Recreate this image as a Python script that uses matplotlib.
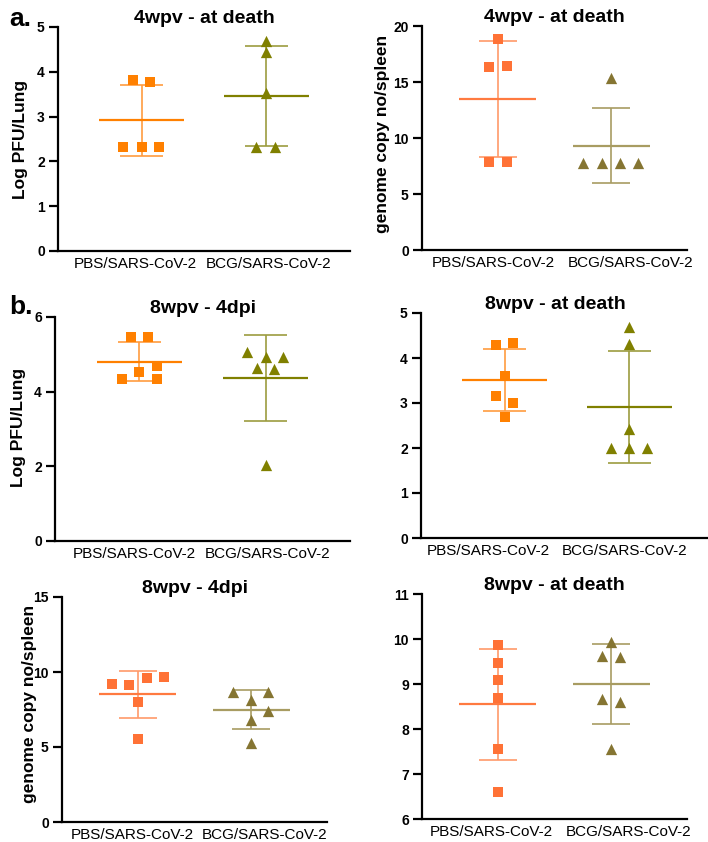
import numpy as np
import matplotlib
matplotlib.use("Agg")
from matplotlib import pyplot as plt

plt.rcParams['font.family'] = ['Liberation Sans', 'DejaVu Sans']

# ---- data ----
groups = ['PBS/SARS-CoV-2', 'BCG/SARS-CoV-2']

lung_4wpv_death_pbs = [3.81, 3.77, 2.33, 2.33, 2.33]
lung_4wpv_death_bcg = [4.69, 4.44, 3.53, 2.33, 2.33]
spleen_4wpv_death_pbs = [18.81, 16.31, 16.43, 7.89, 7.89]
spleen_4wpv_death_bcg = [15.33, 7.80, 7.80, 7.80, 7.80]
lung_8wpv_4dpi_pbs = [5.46, 5.46, 4.68, 4.53, 4.35, 4.35]
lung_8wpv_4dpi_bcg = [5.06, 4.93, 4.93, 4.64, 4.60, 2.03]
lung_8wpv_death_pbs = [4.30, 4.33, 3.61, 3.16, 3.00, 2.70]
lung_8wpv_death_bcg = [4.70, 4.31, 2.43, 2.01, 2.01, 2.01]
spleen_8wpv_4dpi_pbs = [9.20, 9.16, 9.60, 9.64, 8.00, 5.56]
spleen_8wpv_4dpi_bcg = [8.64, 8.64, 8.11, 7.38, 6.82, 5.27]
spleen_8wpv_death_pbs = [9.86, 9.47, 9.10, 8.70, 7.56, 6.60]
spleen_8wpv_death_bcg = [9.93, 9.63, 9.59, 8.67, 8.59, 7.56]

# horizontal scatter of the dots (same order as the values)
jit_1p = [-0.07, 0.07, -0.15, 0.0, 0.14]
jit_1b = [0.0, 0.0, 0.0, -0.08, 0.07]
jit_2p = [0.0, -0.08, 0.08, -0.08, 0.08]
jit_2b = [0.0, -0.25, -0.08, 0.08, 0.24]
jit_3p = [-0.07, 0.07, 0.14, 0.0, -0.14, 0.14]
jit_3b = [-0.15, 0.0, 0.14, -0.07, 0.07, 0.0]
jit_4p = [-0.07, 0.07, 0.0, -0.07, 0.07, 0.0]
jit_4b = [0.0, 0.0, 0.0, -0.15, 0.0, 0.14]
jit_5p = [-0.23, -0.08, 0.08, 0.23, 0.0, 0.0]
jit_5b = [-0.16, 0.15, 0.0, 0.15, 0.0, 0.0]
jit_6p = [0.0, 0.0, 0.0, 0.0, 0.0, 0.0]
jit_6b = [0.0, -0.08, 0.08, -0.08, 0.08, 0.0]

# colours: (marker, mean line, error bar)
lung_pbs = ('#FF8000', '#FF8000', '#FF9C40')
lung_bcg = ('#808000', '#808000', '#9C9C40')
spl_pbs = ('#FF7236', '#FF7A40', '#FF9A6A')
spl_bcg = ('#857532', '#A89C62', '#A89C62')

W, H = 708, 842
fig = plt.figure(figsize=(W / 100, H / 100), dpi=100)


def px_axes(left, right, top, bottom):
    return fig.add_axes([left / W, 1 - bottom / H, (right - left) / W, (bottom - top) / H])


def dot_plot(ax, vals, jit, x0, cols, marker, size):
    v = np.asarray(vals)
    m, sd = v.mean(), v.std(ddof=1)
    ax.vlines(x0, m - sd, m + sd, color=cols[2], lw=1.2, zorder=2)
    ax.hlines([m - sd, m + sd], x0 - 0.17, x0 + 0.17, color=cols[2], lw=1.2, zorder=2)
    ax.hlines(m, x0 - 0.34, x0 + 0.34, color=cols[1], lw=1.6, zorder=3)
    ax.scatter(x0 + np.asarray(jit), v, marker=marker, s=size, color=cols[0],
               linewidths=0, zorder=4)


def style(ax, ylim, yticks, title, tx, labx):
    ax.set_xlim(-0.67, 1.67)
    ax.set_ylim(*ylim)
    ax.set_yticks(yticks)
    # category labels sit a little off the group centres, as in the original
    ax.set_xticks(labx)
    ax.set_xticklabels(groups, fontsize=11)
    for s in ('top', 'right'):
        ax.spines[s].set_visible(False)
    for s in ('left', 'bottom'):
        ax.spines[s].set_linewidth(1.6)
    ax.tick_params(axis='y', length=6.5, width=1.6, pad=3, labelsize=10)
    ax.tick_params(axis='x', length=0, pad=4)
    for lab in ax.get_yticklabels():
        lab.set_fontweight('bold')
    ax.set_title(title, fontsize=14, fontweight='bold', pad=2, x=tx)


panels = [
    ((58, 350, 27, 251), lung_4wpv_death_pbs, jit_1p, lung_4wpv_death_bcg, jit_1b,
     lung_pbs, lung_bcg, (0, 5), range(0, 6), '4wpv - at death', 0.5, (-0.05, 1.02)),
    ((422, 687, 26, 250), spleen_4wpv_death_pbs, jit_2p, spleen_4wpv_death_bcg, jit_2b,
     spl_pbs, spl_bcg, (0, 20), range(0, 21, 5), '4wpv - at death', 0.5, (-0.04, 1.17)),
    ((55, 350, 317, 541), lung_8wpv_4dpi_pbs, jit_3p, lung_8wpv_4dpi_bcg, jit_3b,
     lung_pbs, lung_bcg, (0, 6), range(0, 7, 2), '8wpv - 4dpi', 0.5, (-0.04, 1.02)),
    ((421, 713, 313, 538), lung_8wpv_death_pbs, jit_4p, lung_8wpv_death_bcg, jit_4b,
     lung_pbs, lung_bcg, (0, 5), range(0, 6), '8wpv - at death', 0.46, (-0.13, 0.96)),
    ((62, 327, 597, 822), spleen_8wpv_4dpi_pbs, jit_5p, spleen_8wpv_4dpi_bcg, jit_5b,
     spl_pbs, spl_bcg, (0, 15), range(0, 16, 5), '8wpv - 4dpi', 0.5, (-0.05, 1.12)),
    ((422, 687, 594, 819), spleen_8wpv_death_pbs, jit_6p, spleen_8wpv_death_bcg, jit_6b,
     spl_pbs, spl_bcg, (6, 11), range(6, 12), '8wpv - at death', 0.5, (-0.06, 1.15)),
]

for box, vp, jp, vb, jb, cp, cb, ylim, yt, title, tx, labx in panels:
    ax = px_axes(*box)
    dot_plot(ax, vp, jp, 0, cp, 's', 52)
    dot_plot(ax, vb, jb, 1, cb, '^', 66)
    style(ax, ylim, yt, title, tx, labx)

# y axis labels
ylab_kw = dict(rotation=90, ha='center', va='center', fontsize=12.5, fontweight='bold')
fig.text(21 / W, 1 - 139 / H, 'Log PFU/Lung', **ylab_kw)
fig.text(383 / W, 1 - 134 / H, 'genome copy no/spleen', **ylab_kw)
fig.text(19 / W, 1 - 427 / H, 'Log PFU/Lung', **ylab_kw)
fig.text(30 / W, 1 - 704 / H, 'genome copy no/spleen', **ylab_kw)

# panel letters
fig.text(9 / W, 1 - 26 / H, 'a.', fontsize=19, fontweight='bold', va='baseline')
fig.text(9 / W, 1 - 314 / H, 'b.', fontsize=19, fontweight='bold', va='baseline')

fig.savefig('out.png', dpi=100, facecolor='white')
